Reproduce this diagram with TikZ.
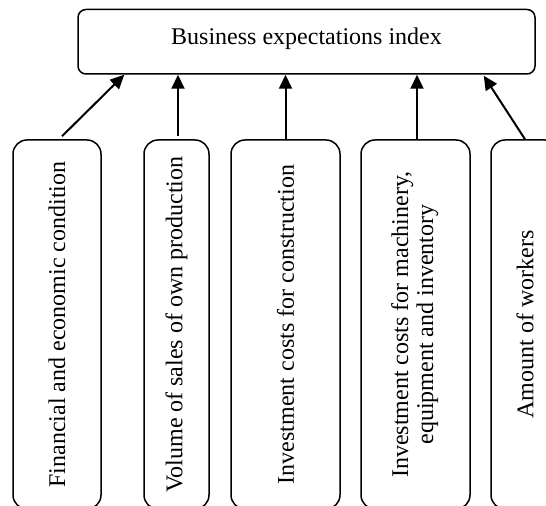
\documentclass[tikz,border=0pt]{standalone}
\usepackage{fontspec}
\setmainfont{Liberation Serif}
\usetikzlibrary{arrows.meta,calc}
\begin{document}
\begin{tikzpicture}[x=0.5pt,y=-0.5pt,
  topbox/.style={draw,line width=0.75pt,rounded corners=4pt,inner sep=0pt,
    minimum width=228.5pt,minimum height=32.25pt,text height=8.2pt,text depth=5.4pt,
    font=\fontsize{12}{13}\selectfont},
  factor/.style={draw,line width=0.75pt,rounded corners=7pt,inner sep=0pt,
    minimum height=184.5pt,font=\fontsize{12}{12.5}\selectfont},
  arr/.style={line width=1pt,-{Triangle[length=7pt,width=6.5pt]}}]
\clip (0,0) rectangle (546,506);
\node[topbox] (top) at (306.5,41.75) {Business expectations index};
\node[factor,minimum width=44pt] (b1) at (57,324.5) {\rotatebox{90}{Financial and economic condition}};
\node[factor,minimum width=32.5pt] (b2) at (176.5,324.5) {\rotatebox{90}{Volume of sales of own production}};
\node[factor,minimum width=54.5pt] (b3) at (285.5,324.5) {\rotatebox{90}{Investment costs for construction}};
\node[factor,minimum width=54.5pt] (b4) at (415.5,324.5) {\rotatebox{90}{\begin{tabular}{@{}c@{}}Investment costs for machinery,\\equipment and inventory\end{tabular}}};
\node[factor,minimum width=34pt] (b5) at (525,324.5) {\rotatebox{90}{Amount of workers}};
\draw[arr] ($(b1.north)+(5,-3)$) -- ($(top.south west)+(47,0)$);
\draw[arr] ($(b2.north)+(1.5,-3)$) -- ($(b2.north |- top.south)+(1.5,0)$);
\draw[arr] (b3.north) -- (b3.north |- top.south);
\draw[arr] ($(b4.north)+(1.5,0)$) -- ($(b4.north |- top.south)+(1.5,0)$);
\draw[arr] (b5.north) -- ($(top.south east)+(-52,1)$);
\end{tikzpicture}
\end{document}
